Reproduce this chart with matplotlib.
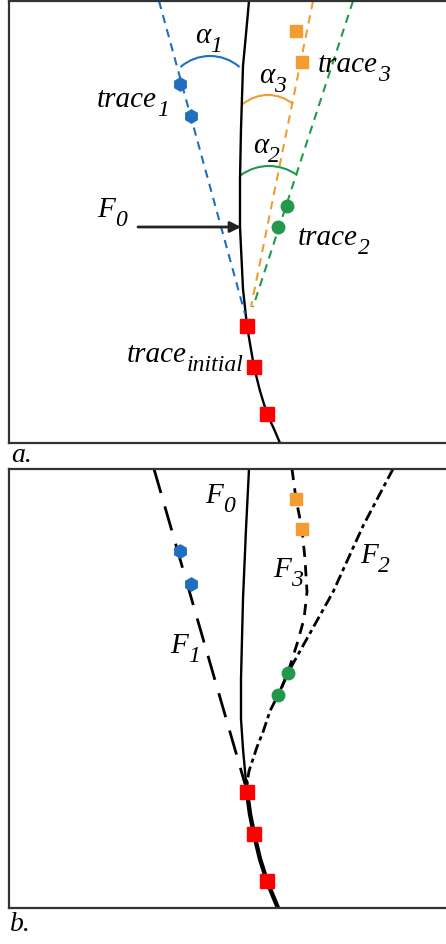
import matplotlib
matplotlib.use('Agg')
import matplotlib.pyplot as plt
from matplotlib.patches import Arc

# all coordinates are in picture pixels (x right, y down)

# ── PANEL a DATA ─────────────────────────────────────────────────────────────
F0_A_X = [249, 246, 243, 241, 240, 240, 243, 247, 254, 260, 267, 274, 280]
F0_A_Y = [2, 35, 67, 130, 180, 228, 290, 327, 368, 392, 415, 430, 444]

BLUE_LINE_X, BLUE_LINE_Y = [159, 245], [2, 315]
ORANGE_LINE_X, ORANGE_LINE_Y = [313, 251], [2, 308]
GREEN_LINE_X, GREEN_LINE_Y = [353, 253], [2, 308]

TRACE1_X, TRACE1_Y = [180, 191], [85, 117]
TRACE2_X, TRACE2_Y = [287, 278], [207, 228]
TRACE3_X, TRACE3_Y = [296, 302], [32, 63]
INIT_A_X, INIT_A_Y = [247, 254, 267], [327, 368, 415]

# angle arcs: centre x, centre y, radius, half opening (deg)
ARC_CX = [210, 268, 269]
ARC_CY = [102, 135, 215]
ARC_R = [45, 39, 48]
ARC_HALF = [41, 40, 36]

# ── PANEL b DATA ─────────────────────────────────────────────────────────────
F0_B_X = [249, 246, 243, 241, 241, 243, 246]
F0_B_Y = [470, 530, 600, 680, 720, 750, 783]
INIT_B_LINE_X = [246, 247, 250, 254, 260, 267, 273, 278]
INIT_B_LINE_Y = [783, 793, 815, 835, 860, 882, 897, 909]
F1_X, F1_Y = [154, 245], [470, 785]
F3_X = [292, 296, 302, 305, 307, 304, 297, 290, 282]
F3_Y = [470, 500, 530, 560, 593, 620, 645, 667, 688]
F2_X = [393, 363, 333, 290, 278, 270, 263, 257, 253, 249, 247]
F2_Y = [470, 527, 593, 670, 696, 712, 733, 748, 760, 772, 785]

B_TRACE1_X, B_TRACE1_Y = [180, 191], [552, 585]
B_TRACE2_X, B_TRACE2_Y = [288, 278], [674, 696]
B_TRACE3_X, B_TRACE3_Y = [296, 302], [500, 530]
B_INIT_X, B_INIT_Y = [247, 254, 267], [793, 835, 882]

BLUE = '#1f6fc0'
ORANGE = '#f39c32'
GREEN = '#22994a'
RED = '#ff0000'

plt.rcParams['font.family'] = 'Liberation Serif'

W, H = 446, 945
fig = plt.figure(figsize=(W / 100, H / 100), dpi=100)


def make_axes(top, bottom):
    left, right = 9, 470
    ax = fig.add_axes([left / W, 1 - bottom / H, (right - left) / W, (bottom - top) / H])
    ax.set_xlim(left, right)
    ax.set_ylim(bottom, top)
    ax.set_xticks([])
    ax.set_yticks([])
    for s in ax.spines.values():
        s.set_linewidth(1.6)
        s.set_color('#333333')
    return ax


def label(ax, x, y, main, sub, size=21, sub_size=17):
    # x = left edge, y = baseline; subscript hangs off the right of the main text
    t = ax.text(x, y, main, fontsize=size, style='italic', ha='left', va='baseline')
    ax.annotate(sub, xy=(1, 0), xycoords=t, xytext=(0, -2.5), textcoords='offset points',
                fontsize=sub_size, style='italic', ha='left', va='baseline')


# ── PANEL a ──────────────────────────────────────────────────────────────────
ax = make_axes(2, 444)
ax.plot(F0_A_X, F0_A_Y, color='black', lw=1.7)
ax.plot(BLUE_LINE_X, BLUE_LINE_Y, color=BLUE, lw=1.5, ls=(0, (4, 3)))
ax.plot(ORANGE_LINE_X, ORANGE_LINE_Y, color=ORANGE, lw=1.5, ls=(0, (4, 3)))
ax.plot(GREEN_LINE_X, GREEN_LINE_Y, color=GREEN, lw=1.5, ls=(0, (4, 3)))

for cx, cy, r, h, c in zip(ARC_CX, ARC_CY, ARC_R, ARC_HALF, [BLUE, ORANGE, GREEN]):
    ax.add_patch(Arc((cx, cy), 2 * r, 2 * r, theta1=270 - h, theta2=270 + h, color=c, lw=1.5))

ax.plot(TRACE1_X, TRACE1_Y, 'h', color=BLUE, ms=9.5, ls='none')
ax.plot(TRACE2_X, TRACE2_Y, 'o', color=GREEN, ms=9, ls='none')
ax.plot(TRACE3_X, TRACE3_Y, 's', color=ORANGE, ms=9, ls='none')
ax.plot(INIT_A_X, INIT_A_Y, 's', color=RED, ms=9.5, ls='none')

ax.annotate('', xy=(241, 228), xytext=(138, 228),
            arrowprops=dict(arrowstyle='-|>', color='#222222', lw=2, mutation_scale=16,
                            shrinkA=0, shrinkB=0))

label(ax, 195, 43, 'α', '1')
label(ax, 259, 83, 'α', '3')
label(ax, 253, 153, 'α', '2')
label(ax, 97, 107, 'trace', '1')
label(ax, 318, 72, 'trace', '3')
label(ax, 298, 245, 'trace', '2')
label(ax, 97, 217, 'F', '0')
label(ax, 127, 362, 'trace', 'initial')
ax.text(11, 456, 'a.', fontsize=20, style='italic', va='center', ha='left')

# ── PANEL b ──────────────────────────────────────────────────────────────────
ax = make_axes(470, 909)
ax.plot(F0_B_X, F0_B_Y, color='black', lw=1.7)
ax.plot(INIT_B_LINE_X, INIT_B_LINE_Y, color='black', lw=3.2)
ax.plot(F1_X, F1_Y, color='black', lw=2, ls=(0, (9, 5)))
ax.plot(F3_X, F3_Y, color='black', lw=2, ls=(0, (4, 3)))
ax.plot(F2_X, F2_Y, color='black', lw=2, ls=(0, (4, 1.5, 1.5, 1.5)))

ax.plot(B_TRACE1_X, B_TRACE1_Y, 'h', color=BLUE, ms=9.5, ls='none')
ax.plot(B_TRACE2_X, B_TRACE2_Y, 'o', color=GREEN, ms=9, ls='none')
ax.plot(B_TRACE3_X, B_TRACE3_Y, 's', color=ORANGE, ms=9, ls='none')
ax.plot(B_INIT_X, B_INIT_Y, 's', color=RED, ms=9.5, ls='none')

label(ax, 205, 503, 'F', '0')
label(ax, 273, 577, 'F', '3')
label(ax, 360, 563, 'F', '2')
label(ax, 170, 653, 'F', '1')
ax.text(10, 925, 'b.', fontsize=20, style='italic', va='center', ha='left')

fig.savefig('out.png', dpi=100)
